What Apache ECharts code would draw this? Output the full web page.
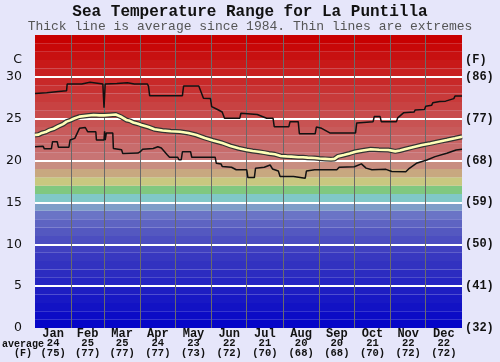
<!DOCTYPE html>
<html><head><meta charset="utf-8">
<script src="https://cdn.jsdelivr.net/npm/echarts@6/dist/echarts.min.js"></script>
<style>html,body{margin:0;padding:0;background:#e6e6fa}#c{width:500px;height:362px}</style>
</head><body><div id="c"></div>
<script>
// ---- data ----
const months = ['Jan','Feb','Mar','Apr','May','Jun','Jul','Aug','Sep','Oct','Nov','Dec'];
const monthDays = [31,28,31,30,31,30,31,31,30,31,30,31];
const monthAvgC = [24,25,25,24,23,22,21,20,20,21,22,22];
const monthAvgF = [75,77,77,77,73,72,70,68,68,70,72,72];
const cTicks = [0,5,10,15,20,25,30];
const fTicks = ['(32)','(41)','(50)','(59)','(68)','(77)','(86)'];
const unitTickPos = 32;

const maxDays  = [0,10,20,27,27.5,40,41,47,48,58,59,60,70,79,85,96,97,98,126,127,140,144,150,151,156,160,162,175,176,190,198,203.5,204.5,217,218,225,226,239.5,240.5,245,246,252,274,275,289,290,295,296,309,310,315,324,325,333,334,339,340,346,351,352,358,359,365];
const maxTemps = [28.0,28.1,28.25,28.35,29.15,29.15,29.35,29.35,29.15,29.15,26.3,29.15,29.2,29.3,29.15,29.15,28.9,27.75,27.75,28.9,28.9,27.45,27.4,26.45,26.1,25.8,25.05,25.05,25.65,25.5,25.05,25.05,24.05,24.05,24.65,24.65,23.2,23.2,24.0,23.85,23.7,23.3,23.3,24.5,24.65,25.25,25.25,24.65,24.65,25.1,25.7,25.8,26.05,26.1,26.5,26.6,26.9,27.05,27.1,27.3,27.4,27.7,27.7];

const minDays  = [0,7,8,14,15,19,20,29,30,34,38,43,45,52,52.5,59,59.5,60,61,66.5,67,74,75,88,90,92,101,105,108,113,115,122,123,125,126,133,134,154,155,159,160,168,172,181,182,187.5,188.5,196,197,201,203,208,209.5,221,222,231,232,239,258,260,273,279,283,288,300,305,317,320,326,335,342,352,360,365];
const minTemps = [21.65,21.7,21.4,21.4,22.25,22.25,21.6,21.6,22.45,22.65,23.85,23.95,23.45,23.45,22.45,22.45,23.5,22.45,23.3,23.3,21.45,21.3,20.85,20.9,21.06,21.35,21.45,21.65,21.5,20.7,20.4,20.4,20.1,20.1,21.05,21.05,20.4,20.4,19.67,19.6,19.3,19.2,18.9,18.9,17.97,17.97,19.08,19.2,19.35,19.47,19.0,18.75,18.1,18.1,17.9,17.9,18.75,18.9,18.9,19.2,19.27,19.6,19.1,18.9,18.95,18.7,18.67,19.08,19.67,20.07,20.47,20.87,21.27,21.35];

const avgDays  = [0,3,6,9,12.5,16,20,24,27,30,33,38,44,50,55,59,64,69,74,78,81,84,88,91,97,102,109,116,124,131,138,145,152,160,167,174,181,186,191,196,200,205,210,215,219,225,229,233,239,243,248,253,256,259,264,269,274,280,287,294,302,308,312,316,323,331,338,345,352,359,365];
const avgTemps = [23.05,23.1,23.3,23.4,23.65,23.8,24.1,24.35,24.65,24.8,25.0,25.25,25.35,25.45,25.4,25.4,25.45,25.5,25.2,24.85,24.75,24.55,24.4,24.25,24.0,23.75,23.6,23.5,23.45,23.3,23.05,22.7,22.4,22.1,21.75,21.47,21.27,21.15,21.06,20.95,20.85,20.75,20.55,20.5,20.47,20.4,20.4,20.35,20.3,20.25,20.2,20.15,20.2,20.5,20.67,20.85,21.06,21.2,21.35,21.3,21.27,21.1,21.2,21.35,21.6,21.86,22.05,22.26,22.45,22.66,22.85];

// ---- styles ----
const bandColors = [
 '#0606c8','#0c0cc6','#1212c4','#1818c4','#1e1ec2','#2626c2','#2c2cc0','#3232c0','#3838c0','#4040c0',
 '#4c4ec0','#5458c0','#5e64c2','#6a74c6','#7e9ec8','#80c8c8','#80c880','#c8c880','#c8a880','#c88e80'
];
for (let t = 20; t < 35; t++) {
  const g = Math.round(116 * (34 - t) / 14);
  const h = g.toString(16).padStart(2,'0');
  bandColors.push('#c8' + h + h);
}
const mono = 'Liberation Mono, Courier New, monospace';

const zip = (a,b) => a.map((d,i) => [d, b[i]]);
const monthStarts = [];
const mids = [];
let acc = 0;
monthDays.forEach((d,i) => { mids.push(acc + d/2); acc += d; if (i < 11) monthStarts.push(acc); });

const bands = bandColors.map((c,t) => [
  {xAxis: 0, yAxis: t, itemStyle: {color: c, opacity: 1}},
  {xAxis: 365, yAxis: t + 1}
]);

const chart = echarts.init(document.getElementById('c'));
chart.setOption({
  animation: false,
  backgroundColor: '#e6e6fa',
  title: [
    {text: 'Sea Temperature Range for La Puntilla', left: 'center', top: 4, padding: 0,
     textStyle: {fontFamily: mono, fontWeight: 'bold', fontSize: 16, color: '#111'}},
    {text: 'Thick line is average since 1984. Thin lines are extremes', left: 'center', top: 20, padding: 0,
     textStyle: {fontFamily: mono, fontWeight: 'normal', fontSize: 13, color: '#555'}}
  ],
  grid: {left: 35, right: 38, top: 35, bottom: 34, containLabel: false},
  xAxis: {
    type: 'value', min: 0, max: 365,
    axisLine: {show: false}, axisTick: {show: false}, splitLine: {show: false},
    axisLabel: {
      customValues: mids, margin: 1, interval: 0, hideOverlap: false,
      formatter: v => {
        const i = mids.findIndex(m => Math.abs(m - v) < 0.01);
        if (i < 0) return '';
        return '{m|' + months[i] + '}\n{n|' + monthAvgC[i] + '}\n{n|(' + monthAvgF[i] + ')}';
      },
      rich: {
        m: {fontFamily: mono, fontWeight: 'bold', fontSize: 12, lineHeight: 10, color: '#111'},
        n: {fontFamily: mono, fontWeight: 'bold', fontSize: 10.5, lineHeight: 9.5, color: '#111'}
      }
    }
  },
  yAxis: [
    {type: 'value', min: 0, max: 35, position: 'left',
     axisLine: {show: false}, axisTick: {show: false}, splitLine: {show: false},
     axisLabel: {customValues: cTicks.concat([unitTickPos]), margin: 13,
       formatter: v => v === unitTickPos ? 'C' : String(v),
       fontFamily: 'DejaVu Sans', fontSize: 12.5, color: '#111'}},
    {type: 'value', min: 0, max: 35, position: 'right',
     axisLine: {show: false}, axisTick: {show: false}, splitLine: {show: false},
     axisLabel: {customValues: cTicks.concat([unitTickPos]), margin: 3,
       formatter: v => v === unitTickPos ? '(F)' : fTicks[cTicks.indexOf(v)],
       fontFamily: mono, fontWeight: 'bold', fontSize: 12, color: '#111'}}
  ],
  graphic: [
    {type: 'text', left: 2, top: 339, style: {text: 'average', font: 'bold 10px ' + mono, fill: '#111'}},
    {type: 'text', left: 14, top: 348, style: {text: '(F)', font: 'bold 10px ' + mono, fill: '#111'}}
  ],
  series: [
    {type: 'line', z: 1, silent: true, symbol: 'none', data: zip(minDays, minTemps),
     lineStyle: {width: 0, opacity: 0},
     markArea: {silent: true, data: bands},
     markLine: {silent: true, symbol: ['none','none'], label: {show: false},
       data: cTicks.filter(v => v > 0).map(v => ({yAxis: v, lineStyle: {color: '#ffffff', width: 2, type: 'solid'}}))
         .concat(monthStarts.map(d => ({xAxis: d, lineStyle: {color: '#6a6a6a', width: 1, type: 'solid'}})))
     }},
    {type: 'line', z: 5, symbol: 'none', data: zip(maxDays, maxTemps), lineStyle: {color: '#111', width: 1.5}},
    {type: 'line', z: 5, symbol: 'none', data: zip(minDays, minTemps), lineStyle: {color: '#111', width: 1.5}},
    {type: 'line', z: 6, symbol: 'none', data: zip(avgDays, avgTemps), lineStyle: {color: '#333', width: 5}},
    {type: 'line', z: 7, symbol: 'none', data: zip(avgDays, avgTemps), lineStyle: {color: '#ffffb8', width: 2.6}}
  ]
});
</script>
</body></html>
